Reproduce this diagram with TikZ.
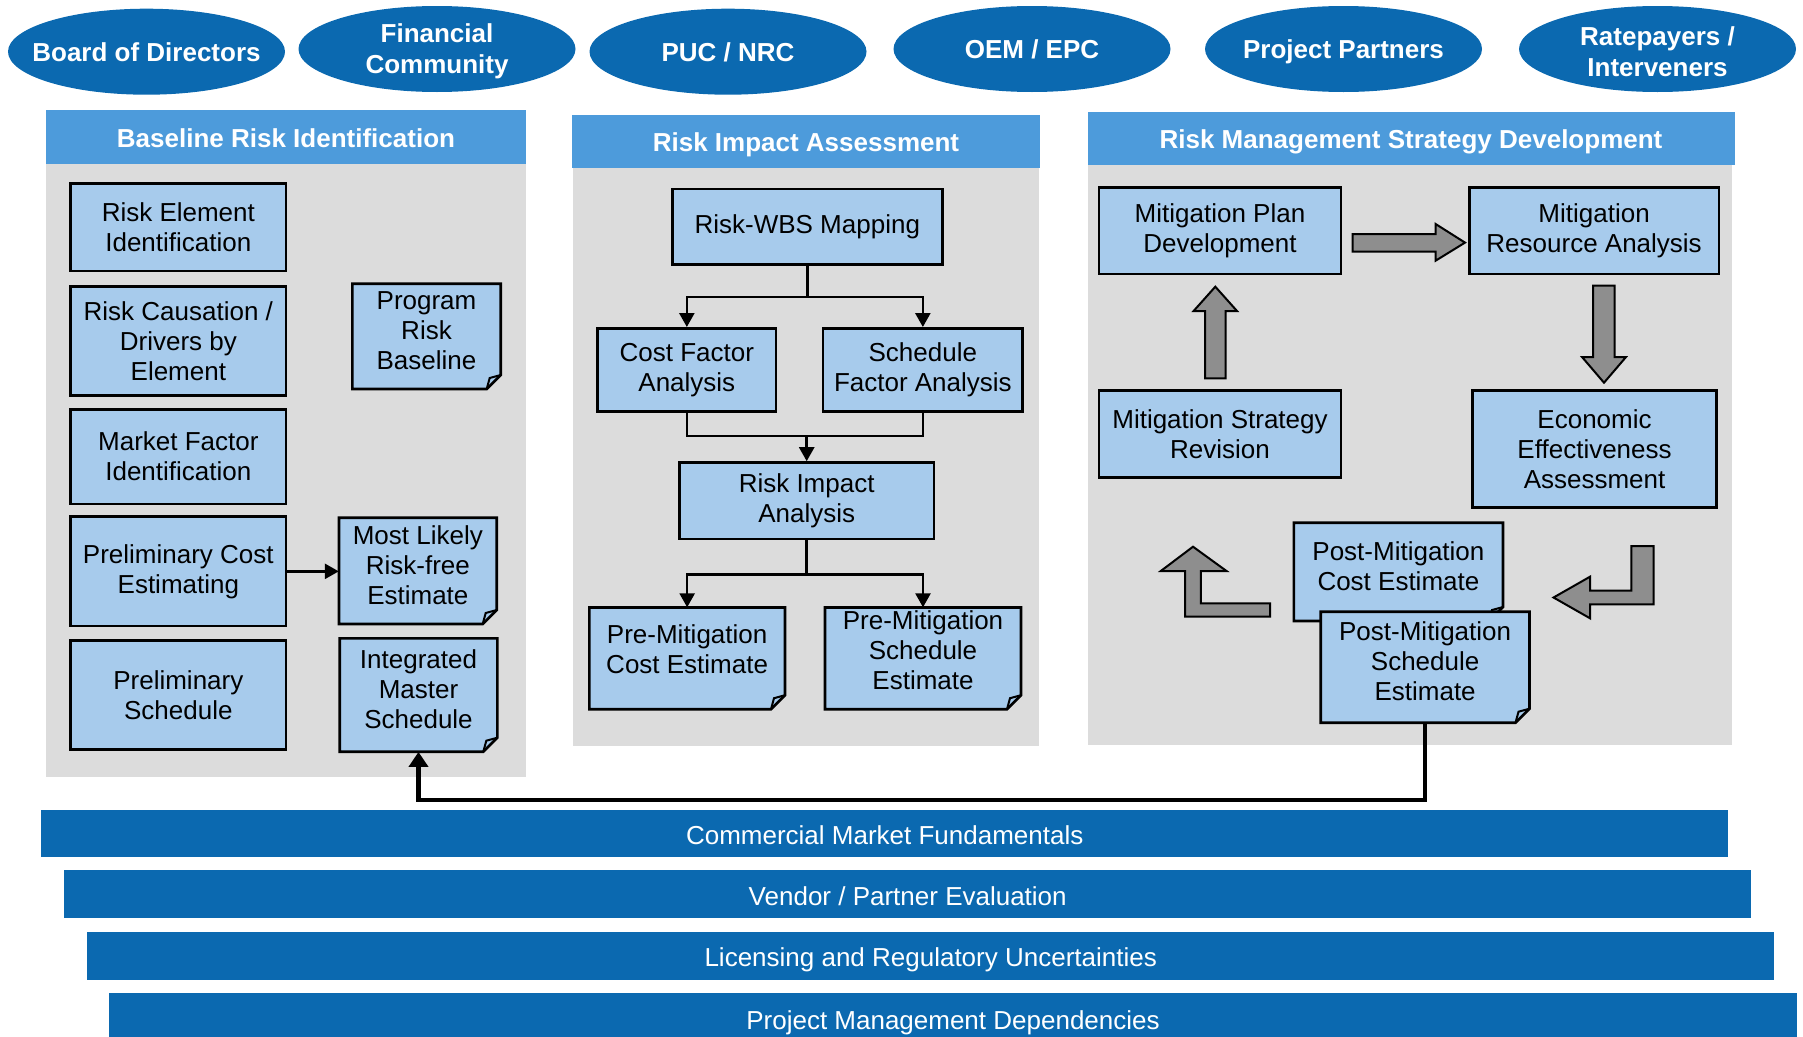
\documentclass[tikz,border=0pt]{standalone}
\usepackage{fontspec}
\setmainfont{Liberation Sans}
\usetikzlibrary{shapes.geometric,arrows.meta}
\definecolor{dkblue}{RGB}{11,105,176}
\definecolor{hdblue}{RGB}{77,155,219}
\definecolor{bxblue}{RGB}{167,203,236}
\definecolor{pgray}{RGB}{220,220,220}
\definecolor{agray}{RGB}{142,142,142}
\tikzset{
  staketext/.style={text=white, align=center, inner sep=0pt, font=\fontsize{26}{31}\selectfont\bfseries},
  oneline/.style={text height=18.6pt, text depth=0pt},
  twoline/.style={yshift=-2.5pt},
  hdr/.style={fill=hdblue, text=white, inner sep=0pt, text height=20pt, text depth=0pt, font=\fontsize{26}{30}\selectfont\bfseries},
  panelbg/.style={fill=pgray},
  bxline/.style={draw=black, line width=2.6pt, line join=miter},
  bx/.style={bxline, fill=bxblue, align=center, inner sep=2pt, font=\fontsize{26}{30}\selectfont},
  doctext/.style={align=center, inner sep=0pt, font=\fontsize{26}{30}\selectfont},
  flow/.style={line width=2.6pt, -{Triangle[length=14pt,width=15pt]}},
  plain/.style={line width=2.6pt},
  fback/.style={line width=4.5pt, -{Triangle[length=15pt,width=19pt]}},
  blockarrow/.style={draw=black, line width=2pt, fill=agray, line join=miter},
  bar/.style={fill=dkblue, text=white, inner sep=0pt, text height=22pt, text depth=0pt, font=\fontsize{26}{30}\selectfont}
}
% stakeholder ellipse: name, x, y, text, extra options
\newcommand\stake[5]{%
  \fill[dkblue] (#2,#3) ellipse [x radius=138.5pt, y radius=43pt];
  \node[staketext,#5] (#1) at (#2,#3) {#4};}
% rectangular box: name, x1, y1, x2, y2, text
\newcommand\rbox[6]{\node[bx, minimum width={#4-#2}, minimum height={#5-#3}] (#1) at ({(#2+#4)/2},{(#3+#5)/2}) {#6};}
% document box with folded corner: name, x1, y1, x2, y2, text, text lift
\newcommand\dbox[7]{%
  \draw[bxline, fill=bxblue] ({#2},{#3}) -- ({#4},{#3}) -- ({#4},{#5-14}) -- ({#4-14},{#5}) -- ({#2},{#5}) -- cycle;
  \draw[bxline, line width=2pt] ({#4-14},{#5}) -- ({#4-11},{#5-11}) -- ({#4},{#5-14});
  \node[inner sep=0pt, minimum width={#4-#2}, minimum height={#5-#3}] (#1) at ({(#2+#4)/2},{(#3+#5)/2}) {};
  \node[doctext] (#1-t) at ([yshift=#7pt]#1.center) {#6};}
\begin{document}
\begin{tikzpicture}[x=1pt,y=-1pt]
\useasboundingbox (0,0) rectangle (1803,1036);
\clip (0,0) rectangle (1803,1036);

% stakeholders
\stake{bod}{146.5}{51.7}{Board of Directors}{oneline}
\stake{fin}{437}{49}{Financial\\Community}{twoline}
\stake{puc}{728}{51.7}{PUC / NRC}{oneline}
\stake{oem}{1032}{49}{OEM / EPC}{oneline}
\stake{pp}{1343.5}{49}{Project Partners}{oneline}
\stake{rate}{1657.5}{49}{Ratepayers /\\Interveners}{twoline}

% panels
\fill[panelbg] (46,164) rectangle (526,777);
\node[hdr, minimum width=480pt, minimum height=53.5pt] (h1) at (286,137.2) {Baseline Risk Identification};
\fill[panelbg] (572.7,167.5) rectangle (1039,746);
\node[hdr, minimum width=468pt, minimum height=53pt] (h2) at (806,141) {Risk Impact Assessment};
\fill[panelbg] (1088,165) rectangle (1732,745);
\node[hdr, minimum width=647pt, minimum height=53pt] (h3) at (1411,138.5) {Risk Management Strategy Development};

% panel 1
\rbox{rei}{70.7}{183.3}{286}{271}{Risk Element\\Identification}
\rbox{rcd}{70.7}{286.7}{286}{395.7}{Risk Causation /\\Drivers by\\Element}
\rbox{mfi}{70.7}{409.3}{286}{504}{Market Factor\\Identification}
\rbox{pce}{70.7}{516.7}{286}{626}{Preliminary Cost\\Estimating}
\rbox{psc}{70.7}{640.7}{286}{749.7}{Preliminary\\Schedule}
\dbox{prb}{352.3}{283.7}{500.7}{389}{Program\\Risk\\Baseline}{6}
\dbox{mlr}{339}{517.7}{496.7}{624}{Most Likely\\Risk-free\\Estimate}{6}
\dbox{ims}{339.7}{638.3}{497.3}{751.7}{Integrated\\Master\\Schedule}{6}
\draw[flow] (pce.east) -- (pce.east -| mlr.west);

% panel 2
\rbox{wbs}{672.3}{188.8}{942.3}{264.6}{Risk-WBS Mapping}
\rbox{cfa}{597.7}{328.3}{776}{411.7}{Cost Factor\\Analysis}
\rbox{sfa}{823}{328.3}{1022.7}{411.7}{Schedule\\Factor Analysis}
\rbox{ria}{679.3}{462.5}{934}{538.8}{Risk Impact\\Analysis}
\dbox{pmc}{589.3}{607.5}{785}{709.2}{Pre-Mitigation\\Cost Estimate}{9}
\dbox{pms}{825}{607.5}{1021}{709.2}{Pre-Mitigation\\Schedule\\Estimate}{8.5}
\draw[flow] (wbs.south) -- ++(0,31.2) -| (cfa.north);
\draw[flow] (wbs.south) -- ++(0,31.2) -| (sfa.north);
\coordinate (merge) at (806.7,436);
\draw[plain] (cfa.south) |- (merge) -| (sfa.south);
\draw[flow] (merge) -- (merge |- ria.north);
\draw[flow] (ria.south) -- ++(0,34.3) -| (pmc.north);
\draw[flow] (ria.south) -- ++(0,34.3) -| (pms.north);

% panel 3
\rbox{mpd}{1099}{187.3}{1341}{274}{Mitigation Plan\\Development}
\rbox{mra}{1469.3}{187.3}{1718.9}{274}{Mitigation\\Resource Analysis}
\rbox{msr}{1099}{390.7}{1341}{477.3}{Mitigation Strategy\\Revision}
\rbox{eea}{1472.7}{390.7}{1716.4}{507.3}{Economic\\Effectiveness\\Assessment}
\dbox{poc}{1293.8}{522.7}{1503}{621}{Post-Mitigation\\Cost Estimate}{6}
\dbox{pos}{1320.7}{611.7}{1529.5}{722.7}{Post-Mitigation\\Schedule\\Estimate}{6}

% block arrows
\draw[blockarrow] (1352.7,234) -- (1435.6,234) -- (1435.6,224) -- (1465,242.6) -- (1435.6,260.7) -- (1435.6,251.7) -- (1352.7,251.7) -- cycle;
\draw[blockarrow] (1205,378.3) -- (1205,311) -- (1193.6,311) -- (1215.3,286.7) -- (1237,311) -- (1225.6,311) -- (1225.6,378.3) -- cycle;
\draw[blockarrow] (1593,285.7) -- (1614.5,285.7) -- (1614.5,357) -- (1626,357) -- (1604,382.7) -- (1582,357) -- (1593,357) -- cycle;
\draw[blockarrow] (1270.2,603.3) -- (1270.2,616.7) -- (1185.2,616.7) -- (1185.2,571) -- (1160.8,571) -- (1193,546.7) -- (1226.5,571) -- (1200.8,571) -- (1200.8,603.3) -- cycle;
\draw[blockarrow] (1631.3,546) -- (1653.7,546) -- (1653.7,604.3) -- (1590,604.3) -- (1590,618.3) -- (1553.5,597.5) -- (1590,576.7) -- (1590,590.7) -- (1631.3,590.7) -- cycle;

% feedback
\draw[fback] (pos.south) -- ++(0,77.3) -| (ims.south);

% bottom bars
\node[bar, minimum width=1686.6pt, minimum height=47.8pt] (b1) at (884.7,833.4) {Commercial Market Fundamentals};
\node[bar, minimum width=1686.6pt, minimum height=47.7pt] (b2) at (907.7,894.2) {Vendor / Partner Evaluation};
\node[bar, minimum width=1686.6pt, minimum height=47.7pt] (b3) at (930.7,955.7) {Licensing and Regulatory Uncertainties};
\node[bar, minimum width=1688pt, minimum height=50pt] (b4) at (953,1018) {Project Management Dependencies};
\end{tikzpicture}
\end{document}
